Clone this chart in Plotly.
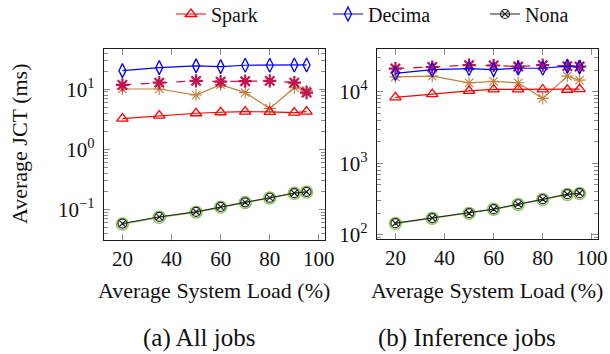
import plotly.graph_objects as go

# ---------------- data ----------------
load = [20, 35, 50, 60, 70, 80, 90, 95]

# (a) All jobs  -- average JCT (ms)
all_spark  = [3.24, 3.63, 3.98, 4.14, 4.24, 4.19, 4.07, 4.24]
all_decima = [20.4, 22.9, 24.5, 23.8, 25.1, 25.1, 25.4, 25.4]
all_nona   = [0.058, 0.075, 0.091, 0.110, 0.131, 0.156, 0.187, 0.196]
all_brown  = [10.1, 10.1, 8.0, 11.9, 8.8, 4.8, 10.6, 9.5]
all_purple = [11.8, 12.9, 13.8, 13.4, 13.6, 13.8, 12.9, 8.8]
all_green  = [0.057, 0.074, 0.090, 0.109, 0.130, 0.155, 0.185, 0.194]

# (b) Inference jobs -- average JCT (ms)
inf_spark  = [8360, 9290, 10300, 10800, 10800, 10800, 10700, 10900]
inf_decima = [18100, 20500, 21200, 20500, 21400, 21400, 22900, 22300]
inf_nona   = [145, 171, 200, 228, 267, 314, 369, 381]
inf_brown  = [16200, 16600, 13400, 14000, 13400, 8100, 16600, 14600]
inf_purple = [21200, 22300, 23600, 23400, 22600, 23600, 22900, 22600]
inf_green  = [144, 170, 199, 227, 265, 312, 366, 378]

x_ticks = [20, 40, 60, 80, 100]
left_y_ticks = [0.1, 1, 10]
left_y_text = ["10<sup>−1</sup>", "10<sup>0</sup>", "10<sup>1</sup>"]
right_y_ticks = [100, 1000, 10000]
right_y_text = ["10<sup>2</sup>", "10<sup>3</sup>", "10<sup>4</sup>"]

FONT = "Liberation Serif"
RED = "#ff0000"
BLUE = "#0000ff"
BLACK = "#202020"
BROWN = "#bf8040"
PURPLE = "#c4144f"
GREEN = "#8cc65a"

fig = go.Figure()


def add_panel(xa, ya, spark, decima, nona, brown, purple, green, legend):
    fig.add_trace(go.Scatter(x=load, y=green, xaxis=xa, yaxis=ya, mode="lines+markers",
                             line=dict(color=GREEN, width=1.6),
                             marker=dict(symbol="circle-open", size=12, color=GREEN,
                                         line=dict(width=1.4)),
                             showlegend=False, name="(6)"))
    fig.add_trace(go.Scatter(x=load, y=brown, xaxis=xa, yaxis=ya, mode="lines+markers",
                             line=dict(color=BROWN, width=1.2),
                             marker=dict(symbol="asterisk-open", size=10, color=BROWN,
                                         line=dict(width=1.1, color=BROWN)),
                             showlegend=False, name="(4)"))
    fig.add_trace(go.Scatter(x=load, y=purple, xaxis=xa, yaxis=ya, mode="lines+markers",
                             line=dict(color=PURPLE, width=1.3, dash="dash"),
                             marker=dict(symbol="asterisk-open", size=11, color=PURPLE,
                                         line=dict(width=2.2, color=PURPLE)),
                             showlegend=False, name="(5)"))
    fig.add_trace(go.Scatter(x=load, y=spark, xaxis=xa, yaxis=ya, mode="lines+markers",
                             line=dict(color=RED, width=1.2),
                             marker=dict(symbol="triangle-up-open", size=10, color=RED,
                                         line=dict(width=1.3)),
                             showlegend=legend, name="Spark"))
    fig.add_trace(go.Scatter(x=load, y=decima, xaxis=xa, yaxis=ya, mode="lines+markers",
                             line=dict(color=BLUE, width=1.2),
                             marker=dict(symbol="diamond-tall-open", size=10, color=BLUE,
                                         line=dict(width=1.3)),
                             showlegend=legend, name="Decima"))
    fig.add_trace(go.Scatter(x=load, y=nona, xaxis=xa, yaxis=ya, mode="lines+markers",
                             line=dict(color=BLACK, width=1.0),
                             marker=dict(symbol="circle-x-open", size=9, color=BLACK,
                                         line=dict(width=1.2)),
                             showlegend=legend, name="Nona"))


add_panel("x", "y", all_spark, all_decima, all_nona, all_brown, all_purple, all_green, True)
add_panel("x2", "y2", inf_spark, inf_decima, inf_nona, inf_brown, inf_purple, inf_green, False)


def minor_vals(lo, hi):
    vals = []
    for e in range(lo, hi + 1):
        for m in range(2, 10):
            vals.append(m * 10 ** e)
    return vals


xaxis_common = dict(range=[12.5, 102.5], tickmode="array", tickvals=x_ticks,
                    ticks="inside", ticklen=6, tickcolor="#8a8a8a", tickwidth=1.2,
                    showline=True, linecolor="#1a1a1a", linewidth=1.2, mirror="allticks",
                    showgrid=False, zeroline=False,
                    tickfont=dict(family=FONT, size=21, color="#111"),
                    ticklabelstandoff=0)
yaxis_common = dict(type="log", ticks="inside", ticklen=6, tickcolor="#8a8a8a", tickwidth=1.2,
                    showline=True, linecolor="#1a1a1a", linewidth=1.2, mirror="allticks",
                    showgrid=False, zeroline=False, tickmode="array",
                    tickfont=dict(family=FONT, size=21, color="#111"),
                    ticklabelstandoff=4)


def note(text, x, y, size, angle=0):
    return dict(text=text, textangle=angle, x=x / 610, y=1 - y / 354,
                xref="paper", yref="paper", xanchor="center", yanchor="middle",
                showarrow=False, font=dict(family=FONT, size=size, color="#111"))


fig.update_layout(
    width=610, height=354,
    margin=dict(l=0, r=0, t=0, b=0, autoexpand=False),
    paper_bgcolor="white", plot_bgcolor="white",
    font=dict(family=FONT, size=20, color="#111"),
    xaxis=dict(domain=[104 / 610, 325 / 610], anchor="y", **xaxis_common),
    xaxis2=dict(domain=[377 / 610, 598 / 610], anchor="y2", **xaxis_common),
    yaxis=dict(domain=[1 - 240 / 354, 1 - 49 / 354], anchor="x",
               range=[-1.51, 1.67], tickvals=left_y_ticks, ticktext=left_y_text,
               minor=dict(ticks="inside", ticklen=3.5, tickcolor="#8a8a8a",
                          tickmode="array", tickvals=minor_vals(-2, 1)),
               **yaxis_common),
    yaxis2=dict(domain=[1 - 239 / 354, 1 - 49 / 354], anchor="x2",
                range=[1.94, 4.6], tickvals=right_y_ticks, ticktext=right_y_text,
                minor=dict(ticks="inside", ticklen=3.5, tickcolor="#8a8a8a",
                           tickmode="array", tickvals=minor_vals(1, 4)),
                **yaxis_common),
    legend=dict(orientation="h", x=171 / 610, xanchor="left", y=1 - 14 / 354, yanchor="middle",
                font=dict(family=FONT, size=20, color="#111"),
                entrywidth=112, entrywidthmode="pixels",
                bgcolor="rgba(0,0,0,0)", borderwidth=0, tracegroupgap=0),
    annotations=[
        note("Average JCT (ms)", 19, 144, 22, angle=-90),
        note("Average System Load (%)", 214, 290, 22),
        note("Average System Load (%)", 487, 290, 22),
        note("(a) All jobs", 200, 338, 25),
        note("(b) Inference jobs", 467, 338, 25),
    ],
)

fig.write_html("out.html")
